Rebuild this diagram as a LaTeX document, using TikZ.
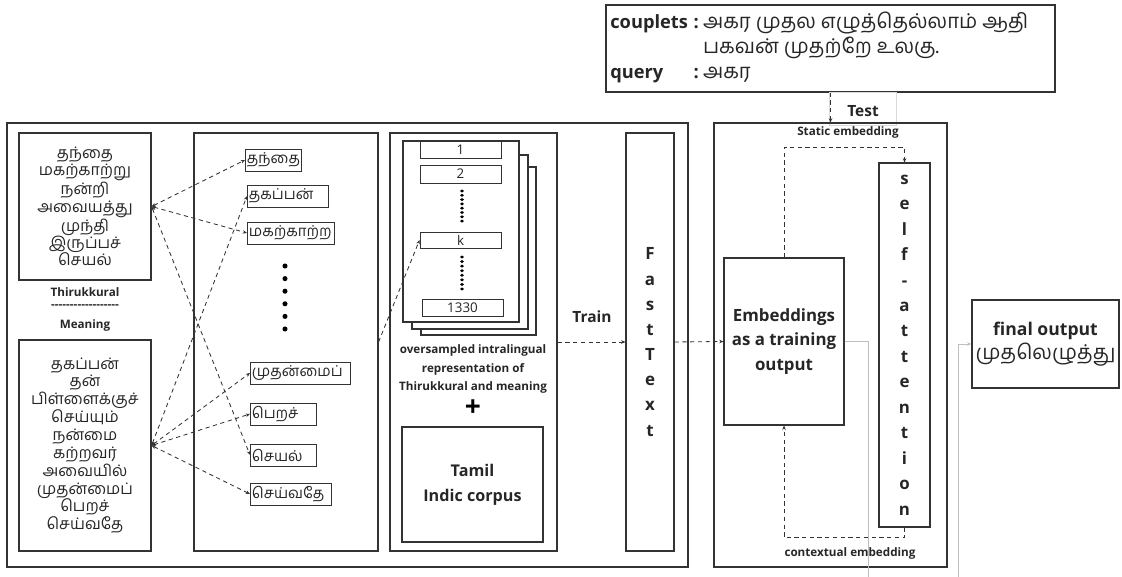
\documentclass[tikz,border=0pt]{standalone}
\usepackage{fontspec}
\setmainfont{Open Sans}
\newfontfamily\tamil[Script=Tamil]{Hind Madurai}
\usetikzlibrary{arrows.meta,fit}

\tikzset{
  box/.style={draw=black!80, line width=0.8pt, inner sep=0pt},
  boxtxt/.style={inner sep=0pt, align=center},
  wordbox/.style={draw=black!80, line width=0.7pt, anchor=west, inner xsep=1pt, inner ysep=0pt,
    minimum height=0.55cm, font=\tamil\fontsize{10.7}{12}\selectfont},
  numbox/.style={draw=black!80, line width=0.7pt, inner sep=0pt, fill=white},
  numtxt/.style={inner sep=0pt, font=\fontsize{9.5}{11}\selectfont},
  lbl/.style={inner sep=0pt, font=\bfseries\fontsize{8.3}{13}\selectfont},
  link/.style={black!80, line width=0.6pt, dash pattern=on 3pt off 2.5pt,
    {Stealth[length=3pt,width=2.5pt]}-{Stealth[length=3pt,width=2.5pt]}},
  flow/.style={black!80, line width=0.6pt, dash pattern=on 3pt off 2.5pt, -{Stealth[length=3pt,width=2.5pt]}},
  greyline/.style={black!25, line width=0.6pt, arrows={-{Stealth[length=3pt,width=2.5pt]}}}
}

\begin{document}
\begin{tikzpicture}[x=0.025cm, y=-0.025cm, text=black!85]
  \useasboundingbox (0,0) rectangle (1122,577);

  % test input
  \node[box, fit={(606,5) (1055,92)}] (query) {};
  \node[anchor=north west, inner sep=0pt, font=\bfseries\fontsize{13}{17.8}\selectfont] (querytxt) at (610,11) {%
    \begin{tabular}{@{}l@{\hspace{4pt}}l@{}}
      couplets & :\hspace{3pt}{\tamil\mdseries\fontsize{14.5}{17.8}\selectfont அகர முதல எழுத்தெல்லாம் ஆதி}\\
      & \phantom{:}\hspace{3pt}{\tamil\mdseries\fontsize{14.5}{17.8}\selectfont பகவன் முதற்றே உலகு.}\\
      query & :\hspace{3pt}{\tamil\mdseries\fontsize{14.5}{17.8}\selectfont அகர}
    \end{tabular}};
  \node[draw=black!15, line width=0.5pt, inner sep=0pt, fit={(829,92) (896,125)}] (testlbl) {};
  \node[boxtxt, font=\bfseries\fontsize{11}{13}\selectfont] at (863,111) {Test};

  % training side
  \node[box, fit={(7,123) (688,567)}] (train) {};
  \node[box, fit={(714,123) (947,567)}] (test) {};

  % kural and its meaning
  \node[box, fit={(19,133) (151,280)}] (kural) {};
  \node[boxtxt, font=\tamil\fontsize{11.3}{12.3}\selectfont] at (kural)
    {தந்தை\\மகற்காற்று\\நன்றி\\அவையத்து\\முந்தி\\இருப்பச்\\செயல்};
  \node[lbl] (kurallbl) at (85,292) {Thirukkural};
  \node[lbl] (sep) at (85,307) {{-}{-}{-}{-}{-}{-}{-}{-}{-}{-}{-}{-}{-}{-}{-}{-}{-}{-}};
  \node[lbl] (meaninglbl) at (85,325) {Meaning};
  \node[box, fit={(19,340) (151,551)}] (meaning) {};
  \node[boxtxt, font=\tamil\fontsize{11.3}{12.7}\selectfont] at (meaning)
    {தகப்பன்\\தன்\\பிள்ளைக்குச்\\செய்யும்\\நன்மை\\கற்றவர்\\அவையில்\\முதன்மைப்\\பெறச்\\செய்வதே};

  % word list
  \node[box, fit={(194,133) (378,551)}] (words) {};
  \node[wordbox, text width=1.33cm] (w1) at (245,160) {தந்தை};
  \node[wordbox, text width=1.95cm] (w2) at (247,196) {தகப்பன்};
  \node[wordbox, text width=2.1cm] (w3) at (247,233) {மகற்காற்ற};
  \node[wordbox, text width=2.43cm] (w4) at (250,373) {முதன்மைப்};
  \node[wordbox, text width=1.58cm] (w5) at (250,414) {பெறச்};
  \node[wordbox, text width=1.58cm] (w6) at (250,455) {செயல்};
  \node[wordbox, text width=1.95cm] (w7) at (250,494) {செய்வதே};
  \foreach \i in {0,...,5}
    \fill[black] (285,266+12.6*\i) circle (1.8pt);

  % oversampled corpus
  \node[box, fit={(390,133) (557,551)}] (corpus) {};
  \node[box, fill=white, fit={(421,167) (536,335)}] (page3) {};
  \node[box, fill=white, fit={(412,155) (528,329)}] (page2) {};
  \node[box, fill=white, fit={(403,141) (519,322)}] (page1) {};
  \node[numbox, fit={(420,141) (501,158)}] (r1) {};
  \node[numtxt] at (r1) {1};
  \node[numbox, fit={(420,165) (501,183)}] (r2) {};
  \node[numtxt] at (r2) {2};
  \node[numbox, fit={(420,232) (501,248)}] (rk) {};
  \node[numtxt] at (rk) {k};
  \node[numbox, fit={(422,299) (503,316)}] (rlast) {};
  \node[numtxt] at (rlast) {1330};
  \foreach \i in {0,...,7} {
    \fill[black] (462,191+4.3*\i) ellipse (1.4pt and 1.1pt);
    \fill[black] (462,257+4.57*\i) ellipse (1.4pt and 1.1pt);
  }
  \node[lbl, align=center, font=\bfseries\fontsize{8.3}{13.1}\selectfont] (caption) at (473,369)
    {oversampled intralingual\\representation of\\Thirukkural and meaning};
  \node[inner sep=0pt, font=\bfseries\fontsize{20}{20}\selectfont, text=black] (plus) at (473,408) {+};
  \node[box, fit={(402,427) (543,542)}] (indic) {};
  \node[boxtxt, font=\bfseries\fontsize{11.5}{17.7}\selectfont] at (indic) {Tamil\\Indic corpus};

  % fasttext
  \node[box, fit={(626,133) (674,551)}] (fasttext) {};
  \node[boxtxt, font=\bfseries\fontsize{12}{17.9}\selectfont] at (fasttext) {F\\a\\s\\t\\T\\e\\x\\t};
  \node[inner sep=0pt, font=\bfseries\fontsize{11}{13}\selectfont] (trainlbl) at (592,317) {Train};

  % embeddings and attention
  \node[box, fit={(724,258) (844,425)}] (emb) {};
  \node[boxtxt, font=\bfseries\fontsize{12}{17.4}\selectfont] at (emb) {Embeddings\\as a training\\output};
  \node[box, fit={(879,163) (930,527)}] (att) {};
  \node[boxtxt, font=\bfseries\fontsize{12}{18.1}\selectfont] at (att)
    {s\\e\\l\\f\\-\\a\\t\\t\\e\\n\\t\\i\\o\\n};
  \node[lbl] (staticlbl) at (848,132) {Static embedding};
  \node[lbl] (contextlbl) at (850,553) {contextual embedding};

  % output
  \node[box, fit={(972,300) (1119,388)}] (final) {};
  \node[boxtxt, font=\fontsize{12.5}{17}\selectfont] at (final)
    {\textbf{final output}\\{\tamil\fontsize{14.5}{17}\selectfont முதலெழுத்து}};
  \coordinate (gout) at (868,580);
  \coordinate (gin) at (958,580);

  % connectors
  \draw[link] (kural.east) -- (w1.west);
  \draw[link] (kural.east) -- (w3.west);
  \draw[link] (kural.east) -- (w6.west);
  \draw[link] (meaning.east) -- (w2.west);
  \draw[link] (meaning.east) -- (w4.west);
  \draw[link] (meaning.east) -- (w5.west);
  \draw[link] (meaning.east) -- (w7.west);
  \draw[flow] (words.east) -- (rk.west);
  \draw[flow] (corpus.east) -- (fasttext.west);
  \draw[flow] (fasttext.east) -- (emb.west);
  \draw[flow] (emb.north) -- ++(0,-110) -| (att.north);
  \draw[flow] (att.south) -- ++(0,10) -| (emb.south);
  \draw[flow] (query.south) -- (test.north);
  \draw[greyline, arrows=-] (emb.east) -| (gout);
  \draw[greyline] (gin) |- (final.west);
\end{tikzpicture}
\end{document}
